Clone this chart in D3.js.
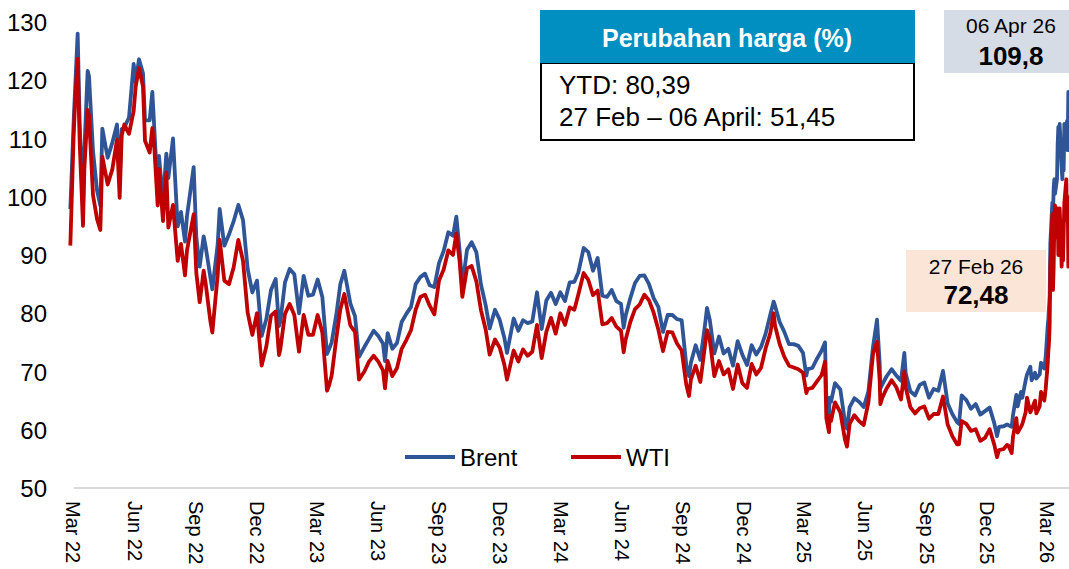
<!DOCTYPE html>
<meta charset="utf-8">
<script src="https://d3js.org/d3.v7.min.js"></script>
<style>
  body { margin: 0; background: #fff; }
  svg text { font-family: "Liberation Sans", Arial, sans-serif; }
</style>
<div id="chart"></div>
<script>

// ---- data (roughly weekly) ----
var dates22 = ["2022-02-25","2022-03-02","2022-03-04","2022-03-08","2022-03-11","2022-03-16","2022-03-18","2022-03-23","2022-03-25","2022-03-31",
  "2022-04-06","2022-04-11","2022-04-14","2022-04-22","2022-04-29",
  "2022-05-06","2022-05-10","2022-05-13","2022-05-17","2022-05-24","2022-05-31",
  "2022-06-03","2022-06-08","2022-06-14","2022-06-17","2022-06-24","2022-06-28",
  "2022-07-01","2022-07-06","2022-07-08","2022-07-14","2022-07-19","2022-07-22","2022-07-29",
  "2022-08-05","2022-08-10","2022-08-16","2022-08-19","2022-08-29",
  "2022-09-02","2022-09-07","2022-09-13","2022-09-16","2022-09-23","2022-09-26",
  "2022-10-04","2022-10-07","2022-10-14","2022-10-21","2022-10-28",
  "2022-11-04","2022-11-11","2022-11-18","2022-11-25",
  "2022-12-02","2022-12-09","2022-12-16","2022-12-23","2022-12-30"];
var brent22 = [97.9,113.0,118.1,128.0,112.7,98.0,107.9,121.6,120.7,107.9,
  101.1,98.5,111.7,106.7,109.3,
  112.4,102.5,111.6,111.9,113.6,122.8,
  119.7,123.6,121.2,113.1,113.1,118.0,
  111.6,100.7,107.0,99.1,107.4,103.2,110.0,
  94.9,97.4,92.3,96.7,105.1,
  93.0,88.0,93.2,91.4,86.2,84.1,
  91.8,97.9,91.6,93.5,95.8,
  98.6,96.0,87.6,83.6,
  85.6,76.1,79.0,84.0,85.9];
var wti22 = [91.6,110.6,115.7,123.7,109.3,95.0,104.7,114.9,113.9,100.3,
  96.2,94.3,106.9,102.1,104.7,
  109.8,99.8,110.5,112.4,110.8,114.7,
  118.9,122.1,118.9,109.6,107.6,111.8,
  108.4,98.5,104.8,95.8,104.2,94.7,98.6,
  89.0,91.9,86.5,90.8,97.0,
  86.9,81.9,87.3,85.1,78.7,76.7,
  86.5,92.6,85.6,85.0,87.9,
  92.6,89.0,80.1,76.3,
  80.0,71.0,74.3,79.6,80.3];

var dates23 = ["2023-01-04","2023-01-06","2023-01-13","2023-01-20","2023-01-27",
  "2023-02-03","2023-02-10","2023-02-17","2023-02-24",
  "2023-03-03","2023-03-10","2023-03-17","2023-03-20","2023-03-24","2023-03-31",
  "2023-04-06","2023-04-12","2023-04-21","2023-04-28",
  "2023-05-04","2023-05-12","2023-05-19","2023-05-26",
  "2023-06-02","2023-06-09","2023-06-12","2023-06-16","2023-06-23","2023-06-30",
  "2023-07-07","2023-07-14","2023-07-21","2023-07-28",
  "2023-08-04","2023-08-11","2023-08-18","2023-08-25",
  "2023-09-01","2023-09-08","2023-09-15","2023-09-22","2023-09-27",
  "2023-10-02","2023-10-06","2023-10-13","2023-10-20","2023-10-27",
  "2023-11-03","2023-11-10","2023-11-16","2023-11-24",
  "2023-12-01","2023-12-08","2023-12-12","2023-12-22","2023-12-29"];
var brent23 = [77.8,78.6,85.3,87.6,86.7,
  80.0,86.4,83.0,83.2,
  85.8,82.8,73.0,73.8,75.0,79.8,
  85.0,87.3,81.7,79.5,
  72.5,74.2,75.6,77.0,
  76.1,74.8,71.8,76.6,73.9,74.9,
  78.5,79.9,81.1,85.0,
  86.2,86.8,84.8,84.5,
  88.6,90.7,93.9,93.3,96.6,
  90.7,84.6,90.9,92.2,90.5,
  84.9,81.4,77.4,80.6,
  78.9,75.8,73.2,79.1,77.0];
var wti23 = [72.8,73.8,79.9,81.6,79.7,
  73.4,79.7,76.3,76.3,
  79.7,76.7,66.7,67.6,69.3,75.7,
  80.7,83.3,77.9,76.8,
  68.6,70.0,71.7,72.7,
  71.7,70.2,67.1,71.8,69.2,70.6,
  73.9,75.4,77.1,80.6,
  82.8,83.2,81.3,79.8,
  85.6,87.5,90.8,90.0,93.7,
  88.8,82.8,87.7,88.1,85.5,
  80.5,77.2,72.9,75.5,
  74.1,71.2,68.6,73.6,71.7];

var dates24 = ["2024-01-05","2024-01-12","2024-01-19","2024-01-26",
  "2024-02-02","2024-02-09","2024-02-16","2024-02-23",
  "2024-03-01","2024-03-08","2024-03-15","2024-03-22","2024-03-28",
  "2024-04-05","2024-04-12","2024-04-19","2024-04-26",
  "2024-05-03","2024-05-10","2024-05-17","2024-05-24","2024-05-31",
  "2024-06-04","2024-06-07","2024-06-14","2024-06-21","2024-06-28",
  "2024-07-05","2024-07-12","2024-07-19","2024-07-26",
  "2024-08-02","2024-08-09","2024-08-16","2024-08-23","2024-08-30",
  "2024-09-06","2024-09-10","2024-09-13","2024-09-20","2024-09-27",
  "2024-10-04","2024-10-07","2024-10-11","2024-10-18","2024-10-25",
  "2024-11-01","2024-11-08","2024-11-15","2024-11-22","2024-11-29",
  "2024-12-06","2024-12-13","2024-12-20","2024-12-27"];
var brent24 = [78.8,78.3,78.6,83.6,
  77.3,82.2,83.5,81.6,
  83.6,82.1,85.3,85.4,87.0,
  91.2,90.5,87.3,89.5,
  83.0,82.8,84.0,82.1,81.6,
  77.5,79.6,82.6,85.2,86.4,
  86.5,85.0,82.6,81.1,
  76.8,79.7,79.7,79.0,78.8,
  71.1,69.2,71.6,74.5,72.0,
  78.0,80.9,79.0,73.1,76.0,
  73.1,73.9,71.0,75.2,72.9,
  71.1,74.5,72.9,74.2];
var wti24 = [73.8,72.7,73.4,78.0,
  72.3,76.8,79.2,76.5,
  80.0,78.0,81.0,80.6,83.2,
  86.9,85.7,83.1,83.9,
  78.1,78.3,79.2,77.7,77.0,
  73.3,75.5,78.5,80.7,81.5,
  83.2,82.2,80.1,77.2,
  73.5,76.8,76.7,74.8,73.6,
  67.7,65.8,68.7,71.0,68.2,
  74.4,77.1,75.6,69.2,71.8,
  69.5,70.4,67.0,71.2,68.0,
  67.2,71.3,69.5,70.6];

var dates25 = ["2025-01-03","2025-01-10","2025-01-15","2025-01-17","2025-01-24","2025-01-31",
  "2025-02-07","2025-02-14","2025-02-21","2025-02-28",
  "2025-03-05","2025-03-07","2025-03-14","2025-03-21","2025-03-28",
  "2025-04-02","2025-04-04","2025-04-08","2025-04-09","2025-04-11","2025-04-17","2025-04-25",
  "2025-05-02","2025-05-05","2025-05-09","2025-05-16","2025-05-23","2025-05-30",
  "2025-06-06","2025-06-13","2025-06-19","2025-06-23","2025-06-24","2025-06-27",
  "2025-07-03","2025-07-11","2025-07-18","2025-07-25","2025-07-30",
  "2025-08-01","2025-08-08","2025-08-15","2025-08-22","2025-08-29",
  "2025-09-05","2025-09-12","2025-09-19","2025-09-26",
  "2025-10-03","2025-10-10","2025-10-17","2025-10-20","2025-10-24","2025-10-31",
  "2025-11-07","2025-11-14","2025-11-21","2025-11-28",
  "2025-12-05","2025-12-12","2025-12-16","2025-12-19","2025-12-26","2025-12-31"];
var brent25 = [76.5,79.8,82.0,81.3,78.5,76.8,
  74.7,74.7,74.4,73.2,
  69.3,70.4,70.6,72.2,73.6,
  75.0,65.6,62.8,65.5,64.8,68.0,66.9,
  61.3,60.2,63.9,65.4,64.8,63.9,
  66.5,74.2,78.9,71.5,67.1,67.8,
  69.1,70.4,69.3,68.4,73.2,
  69.7,66.6,65.9,67.7,68.1,
  65.5,67.0,66.7,70.1,
  64.5,62.7,61.3,61.0,65.9,65.1,
  63.6,64.4,62.6,63.2,
  63.8,61.1,58.9,60.5,60.6,60.9];
var wti25 = [74.0,76.6,80.0,77.9,74.7,72.5,
  71.0,70.7,70.4,69.8,
  66.3,67.0,67.2,68.3,69.4,
  71.7,62.0,59.6,62.4,61.5,64.7,63.0,
  58.3,57.1,61.0,62.5,61.5,60.8,
  64.6,73.0,75.1,68.5,64.4,65.5,
  67.0,68.5,67.3,65.2,70.0,
  67.3,63.9,62.8,63.7,64.0,
  61.9,62.7,62.7,65.7,
  60.9,58.9,57.5,57.5,61.5,61.0,
  59.8,60.1,58.1,58.6,
  60.1,57.4,55.3,56.5,56.7,57.4];

var dates26 = ["2026-01-02","2026-01-07","2026-01-09","2026-01-14","2026-01-16","2026-01-21","2026-01-23","2026-01-28","2026-01-30",
  "2026-02-04","2026-02-06","2026-02-11","2026-02-13","2026-02-18","2026-02-20","2026-02-25","2026-02-27",
  "2026-03-02","2026-03-03","2026-03-04","2026-03-05","2026-03-06","2026-03-09","2026-03-10","2026-03-11","2026-03-12","2026-03-13",
  "2026-03-16","2026-03-17","2026-03-18","2026-03-19","2026-03-20","2026-03-23","2026-03-24","2026-03-25","2026-03-26","2026-03-27",
  "2026-03-30","2026-03-31","2026-04-01","2026-04-02","2026-04-03","2026-04-06"];
var brent26 = [60.8,60.5,62.5,66.0,64.0,66.5,65.5,68.5,69.5,
  70.8,68.5,69.8,68.8,69.5,71.5,70.5,72.48,
  77.7,79.0,81.0,83.0,92.0,99.0,97.0,101.5,103.0,100.5,
  103.0,109.0,112.0,107.0,112.5,105.0,103.0,106.5,104.5,112.5,
  110.0,113.0,108.0,118.0,114.0,109.8];
var wti26 = [57.3,56.0,58.8,62.0,59.5,60.5,61.0,63.0,65.5,
  63.0,63.5,65.0,62.8,64.0,66.5,65.0,67.0,
  71.2,73.5,75.0,78.0,88.0,97.0,84.0,88.0,95.0,98.5,
  93.0,98.0,90.0,96.0,98.0,88.0,92.0,89.0,94.0,99.0,
  103.0,96.0,100.0,88.0,98.0,96.0];

var tickDates = ["2022-03-01","2022-06-01","2022-09-01","2022-12-01","2023-03-01","2023-06-01","2023-09-01","2023-12-01",
  "2024-03-01","2024-06-01","2024-09-01","2024-12-01","2025-03-01","2025-06-01","2025-09-01","2025-12-01","2026-03-01"];
var yTicks = [50, 60, 70, 80, 90, 100, 110, 120, 130];
var seriesNames = ["Brent", "WTI"];

var dates = [].concat(dates22, dates23, dates24, dates25, dates26);
var brent = [].concat(brent22, brent23, brent24, brent25, brent26);
var wti = [].concat(wti22, wti23, wti24, wti25, wti26);

// ---- chart ----
var width = 1069, height = 569;
var colors = {Brent: "#2F5597", WTI: "#C00000"};
var parse = d3.timeParse("%Y-%m-%d");

var svg = d3.select("#chart").append("svg")
    .attr("width", width)
    .attr("height", height);

var x = d3.scaleTime()
    .domain([parse("2022-03-01"), parse("2026-03-01")])
    .range([73, 1047]);
var y = d3.scaleLinear()
    .domain([50, 130])
    .range([488, 22]);

// baseline
svg.append("line")
    .attr("x1", 74).attr("x2", width)
    .attr("y1", y(50)).attr("y2", y(50))
    .attr("stroke", "#D9D9D9").attr("stroke-width", 2);

// y axis
var yAxis = svg.append("g")
    .attr("transform", "translate(47,0)")
    .call(d3.axisLeft(y).tickValues(yTicks).tickSize(0).tickPadding(0));
yAxis.select(".domain").remove();
yAxis.selectAll("text")
    .style("font-size", "24px")
    .style("fill", "#000")
    .attr("dy", "0.36em");

// x axis, labels turned to read downwards
var xAxis = svg.append("g")
    .attr("transform", "translate(0," + y(50) + ")")
    .call(d3.axisBottom(x)
      .tickValues(tickDates.map(parse))
      .tickFormat(d3.timeFormat("%b %y"))
      .tickSize(0));
xAxis.select(".domain").remove();
xAxis.selectAll("text")
    .attr("transform", "rotate(90)")
    .attr("x", 13)
    .attr("y", 0)
    .attr("dy", "0.36em")
    .style("text-anchor", "start")
    .style("font-size", "20px")
    .style("fill", "#000");

// lines
var pts = function(vals) {
  return dates.map(function(d, i) { return {date: parse(d), v: vals[i]}; });
};
var line = d3.line()
    .x(function(d) { return x(d.date); })
    .y(function(d) { return y(d.v); });

[["Brent", brent], ["WTI", wti]].forEach(function(s) {
  svg.append("path")
    .datum(pts(s[1]))
    .attr("fill", "none")
    .attr("stroke", colors[s[0]])
    .attr("stroke-width", 3.8)
    .attr("stroke-linejoin", "round")
    .attr("d", line);
});

// legend
var legend = svg.append("g");
var legX = [405, 571];
seriesNames.forEach(function(n, i) {
  legend.append("line")
    .attr("x1", legX[i]).attr("x2", legX[i] + 50)
    .attr("y1", 457).attr("y2", 457)
    .attr("stroke", colors[n]).attr("stroke-width", 4);
  legend.append("text")
    .attr("x", legX[i] + 55).attr("y", 466)
    .style("font-size", "24px")
    .text(n);
});

// info box
svg.append("rect")
    .attr("x", 541).attr("y", 63).attr("width", 373).attr("height", 77)
    .attr("fill", "#fff").attr("stroke", "#000").attr("stroke-width", 2);
svg.append("rect")
    .attr("x", 540).attr("y", 10).attr("width", 375).attr("height", 53)
    .attr("fill", "#008FC0");
svg.append("text")
    .attr("x", 727).attr("y", 47)
    .attr("text-anchor", "middle")
    .style("font-size", "25px").style("font-weight", "bold").style("fill", "#fff")
    .text("Perubahan harga (%)");
svg.append("text")
    .attr("x", 559).attr("y", 94)
    .style("font-size", "26px")
    .text("YTD: 80,39");
svg.append("text")
    .attr("x", 559).attr("y", 126)
    .style("font-size", "26px")
    .text("27 Feb \u2013 06 April: 51,45");

// 06 Apr 26 label
svg.append("rect")
    .attr("x", 944).attr("y", 10).attr("width", 140).attr("height", 63)
    .attr("fill", "#D6DCE5");
svg.append("text")
    .attr("x", 1011).attr("y", 33)
    .attr("text-anchor", "middle")
    .style("font-size", "21px")
    .text("06 Apr 26");
svg.append("text")
    .attr("x", 1011).attr("y", 65)
    .attr("text-anchor", "middle")
    .style("font-size", "26px").style("font-weight", "bold")
    .text("109,8");

// 27 Feb 26 label
svg.append("rect")
    .attr("x", 906).attr("y", 250).attr("width", 140).attr("height", 62)
    .attr("fill", "#FBE5D6");
svg.append("text")
    .attr("x", 976).attr("y", 274)
    .attr("text-anchor", "middle")
    .style("font-size", "21px")
    .text("27 Feb 26");
svg.append("text")
    .attr("x", 976).attr("y", 304)
    .attr("text-anchor", "middle")
    .style("font-size", "26px").style("font-weight", "bold")
    .text("72,48");

</script>
